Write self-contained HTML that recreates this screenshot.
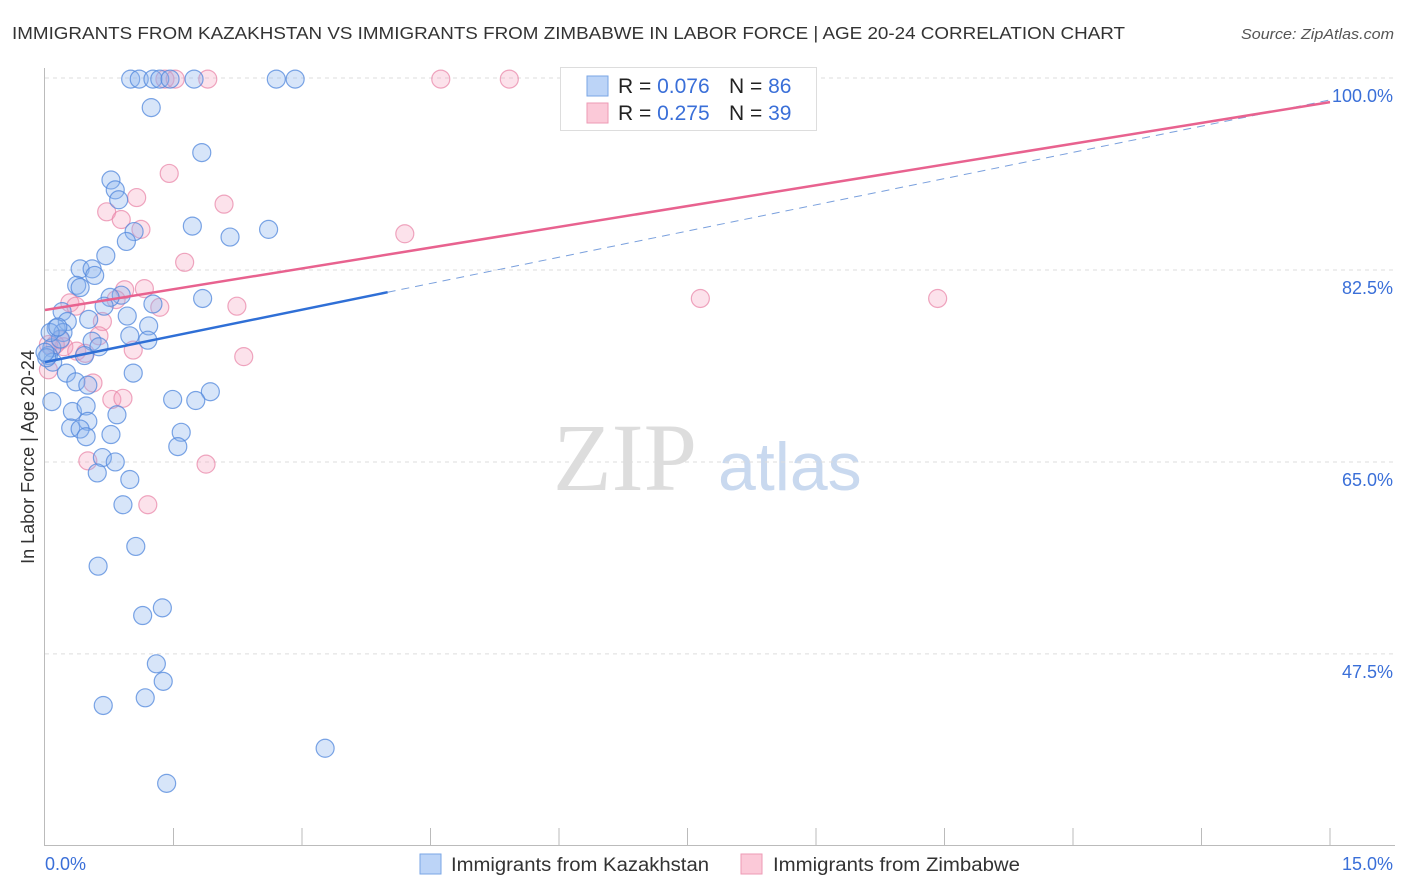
<!DOCTYPE html>
<html><head><meta charset="utf-8">
<style>
body{margin:0;background:#fff;font-family:"Liberation Sans",sans-serif;}
svg{display:block}
</style></head>
<body>
<svg id="chart" width="1406" height="892" xmlns="http://www.w3.org/2000/svg">
<text x="12" y="39" font-size="17.5" fill="#333" textLength="1113" lengthAdjust="spacingAndGlyphs">IMMIGRANTS FROM KAZAKHSTAN VS IMMIGRANTS FROM ZIMBABWE IN LABOR FORCE | AGE 20-24 CORRELATION CHART</text>
<text x="1241" y="39" font-size="15" fill="#555" font-style="italic" textLength="153" lengthAdjust="spacingAndGlyphs">Source: ZipAtlas.com</text>
<text x="553" y="490" font-size="96" fill="#ddd" font-family="Liberation Serif,serif">ZIP</text>
<text x="718" y="490" font-size="68" fill="#c9d9ef">atlas</text>
<text transform="translate(34,457) rotate(-90)" font-size="18" fill="#333" text-anchor="middle">In Labor Force | Age 20-24</text>
<g id="grid"></g>
<g id="axes"></g>
<g id="pts"></g>
<g id="lines"></g>
<g>
<rect x="560.5" y="67.5" width="256" height="63" fill="#fff" stroke="#ddd"/>
<rect x="587" y="76" width="21" height="20" fill="#bcd4f7" stroke="#7aa6e6"/>
<rect x="587" y="103" width="21" height="20" fill="#fbc9d8" stroke="#ee9ab5"/>
<text x="618" y="93" font-size="21" fill="#222">R = <tspan fill="#3a6fd8">0.076</tspan><tspan x="729">N = </tspan><tspan fill="#3a6fd8">86</tspan></text>
<text x="618" y="120" font-size="21" fill="#222">R = <tspan fill="#3a6fd8">0.275</tspan><tspan x="729">N = </tspan><tspan fill="#3a6fd8">39</tspan></text>
</g>
<rect x="420" y="854" width="21" height="20" fill="#bcd4f7" stroke="#7aa6e6"/>
<text x="451" y="871" font-size="19" fill="#333" textLength="258" lengthAdjust="spacingAndGlyphs">Immigrants from Kazakhstan</text>
<rect x="741" y="854" width="21" height="20" fill="#fbc9d8" stroke="#ee9ab5"/>
<text x="773" y="871" font-size="19" fill="#333" textLength="247" lengthAdjust="spacingAndGlyphs">Immigrants from Zimbabwe</text>
</svg>
<script>
const blueX=[1.00,1.10,1.26,1.34,1.46,1.74,2.70,2.92,1.24,1.83,0.77,0.82,0.86,1.72,2.16,2.61,1.04,0.95,0.71,0.41,0.55,0.58,0.37,0.41,0.89,0.76,1.84,1.26,0.69,0.20,0.51,0.26,0.96,1.21,0.13,0.21,0.99,1.20,0.55,0.63,0.08,0.18,0.04,0.09,0.46,0.25,0.36,1.03,0.50,0.08,0.32,0.48,1.93,1.49,1.76,0.84,0.50,0.30,0.41,0.48,0.77,1.59,1.55,0.67,0.82,0.61,0.99,0.91,1.06,0.62,1.37,1.14,1.30,1.38,0.68,1.17,3.27,1.42,0.02,0.06,0.15,0.00];
const blueY=[99.9,99.9,99.9,99.9,99.9,99.9,99.9,99.9,97.3,93.2,90.7,89.8,88.9,86.5,85.5,86.2,86.0,85.1,83.8,82.6,82.6,82.0,81.1,80.9,80.2,80.0,79.9,79.4,79.2,78.7,78.0,77.8,78.3,77.4,77.2,76.8,76.5,76.1,76.0,75.5,75.4,76.2,74.7,74.1,74.7,73.1,72.3,73.1,72.0,70.5,69.6,70.1,71.4,70.7,70.6,69.3,68.7,68.1,68.0,67.3,67.5,67.7,66.4,65.4,65.0,64.0,63.4,61.1,57.3,55.5,51.7,51.0,46.6,45.0,42.8,43.5,38.9,35.7,74.5,76.8,77.3,75.0];
const pinkX=[1.40,1.52,1.90,4.62,5.42,1.45,1.07,0.72,0.89,1.12,2.09,4.20,1.63,1.16,0.93,0.29,0.36,0.83,1.34,2.24,7.65,10.42,0.67,0.63,0.18,0.22,0.37,0.47,1.03,2.32,0.04,0.56,0.78,0.91,0.50,1.88,1.20,0.04,0.12];
const pinkY=[99.9,99.9,99.9,99.9,99.9,91.3,89.1,87.8,87.1,86.2,88.5,85.8,83.2,80.8,80.7,79.5,79.2,79.8,79.1,79.2,79.9,79.9,77.8,76.5,76.1,75.5,75.1,74.9,75.2,74.6,73.4,72.2,70.7,70.8,65.1,64.8,61.1,75.7,75.7];
const yTicks=[100,82.5,65,47.5];
const yTickLabels=["100.0%","82.5%","65.0%","47.5%"];
const blueLine=[74.1,98.0], blueSolidEnd=4.0;
const pinkLine=[78.85,97.8];
const NS="http://www.w3.org/2000/svg";
const xs=v=>45+v/15*1285;
const ys=v=>78+(100-v)*10.97;
function mk(tag,attrs,parent){const e=document.createElementNS(NS,tag);for(const k in attrs)e.setAttribute(k,attrs[k]);parent.appendChild(e);return e;}
const grid=document.getElementById('grid'),axes=document.getElementById('axes'),pts=document.getElementById('pts'),lines=document.getElementById('lines');
yTicks.forEach((t,i)=>{
 const l=mk('line',{x1:45,x2:1395,y1:ys(t),y2:ys(t),stroke:'#ddd','stroke-dasharray':'4,4'},grid);
 
 
 const tx=mk('text',{x:1393,y:ys(t)+24,'font-size':18,fill:'#3a6fd8','text-anchor':'end'},grid);
 tx.textContent=yTickLabels[i];
 
 
});
const ya=mk('line',{x1:44.5,x2:44.5,y1:68,y2:845,stroke:'#bbb'},axes);


const xa=mk('line',{x1:44,x2:1395,y1:845.5,y2:845.5,stroke:'#bbb'},axes);


for(let i=1;i<=10;i++){const t=mk('line',{x1:xs(i*1.5),x2:xs(i*1.5),y1:828,y2:845,stroke:'#bbb'},axes);
 
 }
const x0=mk('text',{x:45,y:870,'font-size':18,fill:'#3a6fd8'},axes);x0.textContent='0.0%';


const x1=mk('text',{x:1393,y:870,'font-size':18,fill:'#3a6fd8','text-anchor':'end'},axes);x1.textContent='15.0%';


pinkX.forEach((x,i)=>{const c=mk('circle',{cx:xs(x),cy:ys(pinkY[i]),r:9,fill:'rgba(246,160,188,0.3)',stroke:'rgba(232,130,165,0.7)','stroke-width':1.2},pts);
 
 });
blueX.forEach((x,i)=>{const c=mk('circle',{cx:xs(x),cy:ys(blueY[i]),r:9,fill:'rgba(140,180,238,0.35)',stroke:'rgba(80,135,220,0.75)','stroke-width':1.2},pts);
 
 });
const bAt=x=>blueLine[0]+(blueLine[1]-blueLine[0])*x/15;
const bl=mk('line',{x1:xs(0),y1:ys(bAt(0)),x2:xs(blueSolidEnd),y2:ys(bAt(blueSolidEnd)),stroke:'#2f6fd6','stroke-width':2.5},lines);


const bd=mk('line',{x1:xs(blueSolidEnd),y1:ys(bAt(blueSolidEnd)),x2:xs(15),y2:ys(bAt(15)),stroke:'#7aa0dd','stroke-width':1,'stroke-dasharray':'8,6'},lines);


const pl=mk('line',{x1:xs(0),y1:ys(pinkLine[0]),x2:xs(15),y2:ys(pinkLine[1]),stroke:'#e8628f','stroke-width':2.5},lines);


</script>
</body></html>
